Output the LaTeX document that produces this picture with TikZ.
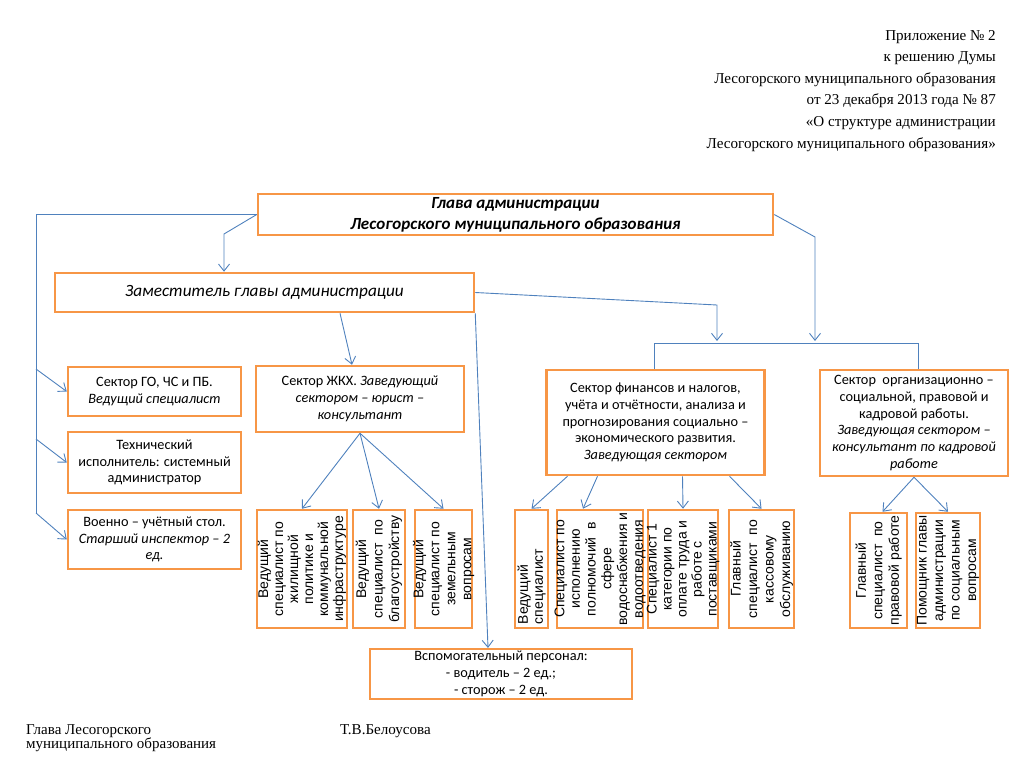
\documentclass[tikz,border=0pt]{standalone}
\usepackage{fontspec}
\setmainfont{Liberation Serif}
\newfontfamily\calfont{Carlito}
\newfontfamily\arialfont{Liberation Sans}
\usetikzlibrary{arrows.meta}
\definecolor{boxorange}{HTML}{F79646}
\definecolor{linkblue}{HTML}{4F81BD}

\begin{document}
\begin{tikzpicture}[x=1pt,y=-1pt,
  box/.style={draw=boxorange,line width=2.5pt,fill=white,inner sep=2pt,align=center,
    font=\calfont\fontsize{14.3}{16.8}\selectfont},
  vbox/.style={box,rotate=90,inner xsep=2pt,inner ysep=-4pt,font=\arialfont\fontsize{14}{16.5}\selectfont},
  tight/.style={font=\arialfont\fontsize{14}{15}\selectfont},
  link/.style={draw=linkblue,line width=0.9pt},
  tip/.style={link,-{Straight Barb[length=7pt,width=11pt]}},
  doc/.style={inner sep=0pt,font=\fontsize{15.1}{21.6}\selectfont}]
\useasboundingbox (0,0) rectangle (1024,768);

\node[doc,anchor=north east,align=right] (annex) at (996,30) {Приложение № 2\\к решению Думы\\Лесогорского муниципального образования\\от 23 декабря 2013 года № 87\\«О структуре администрации\\Лесогорского муниципального образования»};

\node[box,minimum width=515,minimum height=41,font=\calfont\bfseries\itshape\fontsize{17}{21}\selectfont] (glava) at (515.5,214.5)
    {Глава администрации\\Лесогорского муниципального образования};
\node[box,minimum width=419,minimum height=39,font=\calfont\itshape\fontsize{17.2}{20}\selectfont] (zam) at (264.5,292.5)
    {Заместитель главы администрации};

\node[box,minimum width=173,minimum height=49] (go) at (154.5,391.5) {Сектор ГО, ЧС и ПБ.\\\textit{Ведущий специалист}};
\node[box,minimum width=173,minimum height=61] (tech) at (154.5,462.5) {Технический\\исполнитель: системный\\администратор};
\node[box,minimum width=173,minimum height=59] (voen) at (154.5,539.5) {Военно – учётный стол.\\\textit{Старший инспектор – 2}\\\textit{ед.}};

\node[box,minimum width=208,minimum height=66] (zhkh) at (360,399) {Сектор ЖКХ. \textit{Заведующий}\\\textit{сектором – юрист –}\\\textit{консультант}};
\node[box,minimum width=218,minimum height=105] (fin) at (655.5,422.5) {Сектор финансов и налогов,\\учёта и отчётности, анализа и\\прогнозирования социально –\\экономического развития.\\\textit{Заведующая сектором}};
\node[box,minimum width=188,minimum height=106] (org) at (914,423) {Сектор\ \ организационно –\\социальной, правовой и\\кадровой работы.\\\textit{Заведующая сектором –}\\\textit{консультант по кадровой}\\\textit{работе}};

\node[vbox,tight,minimum width=118,minimum height=90] (zh1) at (302,569) {Ведущий\\специалист по\\жилищной\\политике и\\коммунальной\\инфраструктуре};
\node[vbox,minimum width=118,minimum height=52] (zh2) at (379,569) {Ведущий\\специалист\ \ по\\благоустройству};
\node[vbox,minimum width=118,minimum height=57,font=\arialfont\fontsize{14}{16}\selectfont] (zh3) at (443.5,569) {Ведущий\\специалист по\\земельным\\вопросам};

\node[vbox,tight,minimum width=118,minimum height=33,align=left,text width=110] (fb1) at (531.5,569) {Ведущий\\специалист};
\node[vbox,minimum width=118,minimum height=86,font=\arialfont\fontsize{14}{15.7}\selectfont] (fb2) at (600,569) {Специалист по\\исполнению\\полномочий\ \ в\\сфере\\водоснабжения и\\водоотведения};
\node[vbox,tight,minimum width=118,minimum height=70] (fb3) at (683,569) {Специалист 1\\категории по\\оплате труда и\\работе с\\поставщиками};
\node[vbox,minimum width=118,minimum height=65] (fb4) at (761.5,569) {Главный\\специалист\ \ по\\кассовому\\обслуживанию};

\node[vbox,minimum width=115,minimum height=57] (or1) at (878.5,570.5) {Главный\\специалист\ \ по\\правовой работе};
\node[vbox,minimum width=115,minimum height=64] (or2) at (948,570.5) {Помощник главы\\администрации\\по социальным\\вопросам};

\node[box,minimum width=262,minimum height=48] (vspom) at (501,674) {Вспомогательный персонал:\\- водитель – 2 ед.;\\- сторож – 2 ед.};

\node[doc,anchor=north west,align=left,font=\fontsize{15}{14}\selectfont] (sign) at (26,724) {Глава Лесогорского\\муниципального образования};
\node[doc,anchor=north west] (name) at (340,724) {Т.В.Белоусова};

\coordinate (trunktop) at (36,214.5);
\coordinate (trunkbot) at (36,513);
\coordinate (gobr) at (36,369);
\coordinate (techbr) at (36,439);
\coordinate (zambend) at (224,234);
\coordinate (finbend) at (717,305);
\coordinate (finstop) at (717,341);
\coordinate (orgbend) at (815,237);
\coordinate (orgstop) at (815,341);
\coordinate (barend) at (918,343);

\draw[link] (glava.west) -- (trunktop) -- (trunkbot);
\draw[tip] (glava.west) -- (zambend) -- ([xshift=-40.5pt]zam.north);
\draw[tip] (gobr) -- (go.west);
\draw[tip] (techbr) -- (tech.west);
\draw[tip] (trunkbot) -- (voen.west);

\draw[tip] ([xshift=75.5pt]zam.south) -- ([xshift=-8pt]zhkh.north);
\draw[tip] (zam.south east) -- ([xshift=-13pt]vspom.north);
\draw[tip] (zam.east) -- (finbend) -- (finstop);
\draw[tip] (glava.east) -- (orgbend) -- (orgstop);
\draw[link] ([xshift=-1pt]fin.north) |- (barend) -- ([xshift=4pt]org.north);

\foreach \sub in {zh1,zh2,zh3}
  \draw[tip] (zhkh.south) -- (\sub.east);
\draw[tip] ([xshift=-88pt]fin.south) -- (fb1.east);
\draw[tip] ([xshift=-58pt]fin.south) -- ([xshift=-17pt]fb2.east);
\draw[tip] ([xshift=27pt]fin.south) -- (fb3.east);
\draw[tip] ([xshift=74pt]fin.south) -- (fb4.east);
\draw[tip] (org.south) -- ([xshift=4pt]or1.east);
\draw[tip] (org.south) -- (or2.east);

\end{tikzpicture}
\end{document}
